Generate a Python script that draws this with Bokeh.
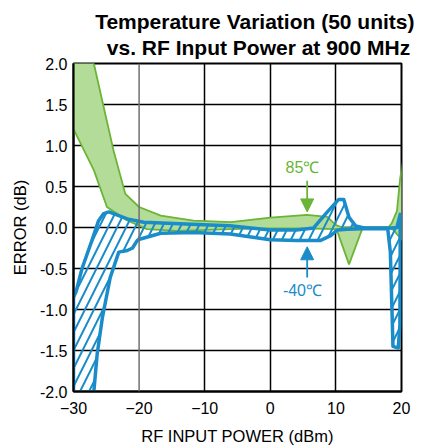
from bokeh.plotting import figure
from bokeh.models import Range1d, Title, Label, Arrow, NormalHead, FixedTicker, PrintfTickFormatter, Span
from bokeh.embed import file_html
from bokeh.resources import INLINE

# ---- data ----
x_ticks = [-30, -20, -10, 0, 10, 20]
y_ticks = [-2.0, -1.5, -1.0, -0.5, 0.0, 0.5, 1.0, 1.5, 2.0]

title_lines = ["Temperature Variation (50 units)", "vs. RF Input Power at 900 MHz"]
x_label = "RF INPUT POWER (dBm)"
y_label = "ERROR (dB)"

# 85 degC envelope
hot_x_upper = [-30, -26.9, -25.4, -23.9, -22.1, -20.0, -16.7, -11.7, -6.0, 0.0, 5.6, 8.7, 10.0, 11.0, 13.0, 18.0, 18.5, 19.3, 19.8, 20.2]
hot_upper   = [3.1, 2.0, 1.47, 0.94, 0.41, 0.25, 0.145, 0.085, 0.065, 0.12, 0.155, 0.13, 0.03, 0.0, 0.0, 0.0, 0.05, 0.2, 0.6, 0.8]
hot_x_lower = [-30, -26.9, -24.9, -21.8, -18.8, -14.2, -6.0, 0.0, 5.0, 10.1, 12.0, 14.0, 18.5, 19.0, 19.5, 20.2]
hot_lower   = [1.2, 0.70, 0.25, 0.085, -0.02, -0.04, -0.02, -0.01, -0.01, -0.02, -0.45, -0.02, -0.01, -0.05, -0.1, -0.16]

# -40 degC envelope
cold_x_upper = [-30, -29.6, -28.7, -27.2, -26.2, -25.4, -24.6, -21.8, -19.3, -12.0, -6.2, 0.0, 4.0, 6.6, 8.7, 10.4, 11.2, 12.0, 13.0, 14.3, 18.5, 19.3, 19.8]
cold_upper   = [-0.85, -0.78, -0.5, -0.16, 0.08, 0.17, 0.19, 0.105, 0.065, 0.04, 0.02, -0.03, -0.03, -0.005, 0.19, 0.34, 0.34, 0.125, 0.02, -0.005, -0.005, 0.0, 0.16]
cold_x_lower = [-30, -27.0, -26.9, -26.4, -25.6, -24.4, -23.1, -21.8, -21.0, -20.3, -19.8, -16.7, -11.7, -6.1, 0.0, 4.1, 7.6, 9.2, 10.2, 11.7, 14.0, 17.9, 18.3, 18.7, 19.5, 19.75, 19.8]
cold_lower   = [-2.3, -2.3, -2.0, -1.55, -1.1, -0.61, -0.30, -0.28, -0.25, -0.16, -0.14, -0.07, -0.06, -0.08, -0.15, -0.16, -0.16, -0.10, -0.03, -0.02, -0.015, -0.015, -0.3, -1.45, -1.47, -1.2, -0.2]

GREEN_FILL = "#b4dc99"
GREEN_LINE = "#6ab536"
BLUE = "#1a8cc9"
FONT = "Liberation Sans"

p = figure(width=420, height=447, x_range=Range1d(-30, 20), y_range=Range1d(-2, 2),
           output_backend="svg", toolbar_location=None, title=None,
           min_border_left=73, min_border_right=19, min_border_top=63, min_border_bottom=0)
p.background_fill_color = "white"
p.border_fill_color = "white"
p.outline_line_color = "black"
p.outline_line_width = 2

# two-line title; lines are centred within the block, so the shorter
# second line is padded on its left to line up on the right
title_text = title_lines[0] + "\n" + "\u00a0\u00a0" + title_lines[1]
p.add_layout(Title(text=title_text, align="right", offset=-13, standoff=9,
                   text_line_height=1.12,
                   text_font=FONT, text_font_size="21px", text_font_style="bold", text_color="black"), "above")

# grid
p.xgrid.ticker = FixedTicker(ticks=[-10, 0, 10])
p.ygrid.ticker = FixedTicker(ticks=y_ticks)
for g in (p.xgrid, p.ygrid):
    g.grid_line_color = "black"
    g.grid_line_width = 1.5
p.add_layout(Span(location=-20, dimension="height", line_color="#707070", line_width=1.5))

# axes
p.xaxis.ticker = FixedTicker(ticks=x_ticks)
p.yaxis.ticker = FixedTicker(ticks=y_ticks)
p.yaxis.formatter = PrintfTickFormatter(format="%.1f")
for ax in (p.xaxis, p.yaxis):
    ax.major_tick_line_color = None
    ax.minor_tick_line_color = None
    ax.major_tick_out = 0
    ax.major_tick_in = 0
    ax.minor_tick_out = 0
    ax.minor_tick_in = 0
    ax.axis_line_color = "black"
    ax.axis_line_width = 2
    ax.major_label_text_font = FONT
    ax.major_label_text_font_size = "16px"
    ax.major_label_text_color = "black"
    ax.axis_label_text_font = FONT
    ax.axis_label_text_font_size = "16.5px"
    ax.axis_label_text_font_style = "normal"
    ax.axis_label_text_color = "black"
p.xaxis.axis_label = x_label
p.yaxis.axis_label = y_label
p.xaxis.major_label_standoff = 10
p.xaxis.axis_label_standoff = 10
p.yaxis.major_label_standoff = 6
p.yaxis.axis_label_standoff = 8

# envelopes
hot_xs = hot_x_upper + hot_x_lower[::-1]
hot_ys = hot_upper + hot_lower[::-1]
p.patch(hot_xs, hot_ys, fill_color=GREEN_FILL, line_color=GREEN_LINE, line_width=1.8)

cold_xs = cold_x_upper + cold_x_lower[::-1]
cold_ys = cold_upper + cold_lower[::-1]
p.patch(cold_xs, cold_ys, fill_color=None, fill_alpha=0, hatch_pattern="/", hatch_color=BLUE,
        hatch_weight=2, hatch_scale=18, line_color=BLUE, line_width=3.5, line_join="round")

# annotations
p.add_layout(Label(x=4.9, y=0.73, text="85℃", text_align="center", text_baseline="middle",
                   text_font=FONT, text_font_size="16px", text_color=GREEN_LINE))
p.add_layout(Arrow(x_start=5.62, y_start=0.57, x_end=5.62, y_end=0.19,
                   line_color=GREEN_LINE, line_width=1.8,
                   end=NormalHead(size=13, fill_color=GREEN_LINE, line_color=GREEN_LINE)))
p.add_layout(Label(x=4.9, y=-0.77, text="-40℃", text_align="center", text_baseline="middle",
                   text_font=FONT, text_font_size="16px", text_color=BLUE))
p.add_layout(Arrow(x_start=5.62, y_start=-0.61, x_end=5.62, y_end=-0.235,
                   line_color=BLUE, line_width=1.8,
                   end=NormalHead(size=13, fill_color=BLUE, line_color=BLUE)))

open("out.html", "w").write(file_html(p, INLINE))
